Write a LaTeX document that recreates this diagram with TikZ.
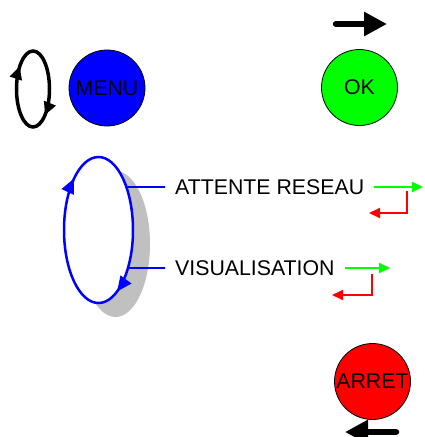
\documentclass[tikz,border=0pt]{standalone}
\usepackage{fontspec}
\setmainfont{Liberation Sans}
\usetikzlibrary{arrows.meta,decorations.markings,calc}
\definecolor{btnblue}{HTML}{0000FF}
\definecolor{btngreen}{HTML}{00FF00}
\definecolor{btnred}{HTML}{FF0000}
\definecolor{shadowgray}{HTML}{C0C0C0}
\begin{document}
\begin{tikzpicture}[x=1pt,y=-1pt,
  every node/.style={font=\fontsize{21.3}{25}\selectfont},
  button/.style={circle,draw=black,line width=0.8pt,minimum size=76pt,inner sep=0pt},
  label/.style={anchor=west,inner xsep=10pt,inner ysep=0pt},
  bigarrow/.style={line width=6.5pt,line cap=round,-{Triangle[length=23pt,width=23pt,line cap=butt]}},
  nextarrow/.style={draw=btngreen,line width=1.8pt,-{Triangle[length=11pt,width=10pt]}},
  backarrow/.style={draw=btnred,line width=1.8pt,-{Triangle[length=11pt,width=10pt]}},
  link/.style={draw=btnblue,line width=1.8pt}
]
\useasboundingbox (0,0) rectangle (425,437);

% buttons
\node[button,fill=btnblue] (menu) at (107,88) {MENU};
\node[button,fill=btngreen] (ok) at (359.5,87.5) {OK};
\node[button,fill=btnred] (arret) at (372.5,381.5) {ARRET};

% cycle symbol next to MENU
\coordinate (cyc) at (33,89);
\draw[line width=3.5pt,
  postaction={decorate,decoration={markings,
    mark=at position 0.15 with {\arrow{Triangle[length=13pt,width=12pt]}},
    mark=at position 0.63 with {\arrow{Triangle[length=13pt,width=12pt]}}}}]
  (cyc) ellipse [x radius=16.5,y radius=38];

% forward / backward arrows
\coordinate (fwdA) at (336,24);
\coordinate (fwdB) at (387,24);
\draw[bigarrow] (fwdA) -- (fwdB);
\coordinate (bwdA) at (396,432);
\coordinate (bwdB) at (345,432);
\draw[bigarrow] (bwdA) -- (bwdB);

% state loop with its shadow
\coordinate (loop) at (98.5,230);
\fill[shadowgray] (115.5,244) ellipse [x radius=34.5,y radius=73];

% state labels
\node[label] (att) at (165,187) {ATTENTE RESEAU};
\node[label] (vis) at (165,268) {VISUALISATION};
\coordinate (tapA) at ($(loop)+(-36:34.5 and 73)$);
\coordinate (tapB) at ($(loop)+(31.4:34.5 and 73)$);
\draw[link] (tapA) -- (att.west);
\draw[link] (tapB) -- (vis.west);

\draw[draw=btnblue,fill=white,line width=2.5pt,
  postaction={decorate,decoration={markings,
    mark=at position 0.185 with {\arrow[btnblue]{Triangle[length=15pt,width=13pt]}},
    mark=at position 0.652 with {\arrow[btnblue]{Triangle[length=15pt,width=13pt]}}}}]
  (loop) ellipse [x radius=34.5,y radius=73];

% transitions of ATTENTE RESEAU
\coordinate (attN) at (423,187);
\coordinate (attR1) at (407,191);
\coordinate (attR2) at (407,213);
\coordinate (attR3) at (369,213);
\draw[nextarrow] (att.east) -- (attN);
\draw[backarrow] (attR1) -- (attR2) -- (attR3);

% transitions of VISUALISATION
\coordinate (visN) at (390,268);
\coordinate (visR1) at (372,274);
\coordinate (visR2) at (372,295);
\coordinate (visR3) at (332,295);
\draw[nextarrow] (vis.east) -- (visN);
\draw[backarrow] (visR1) -- (visR2) -- (visR3);
\end{tikzpicture}
\end{document}
